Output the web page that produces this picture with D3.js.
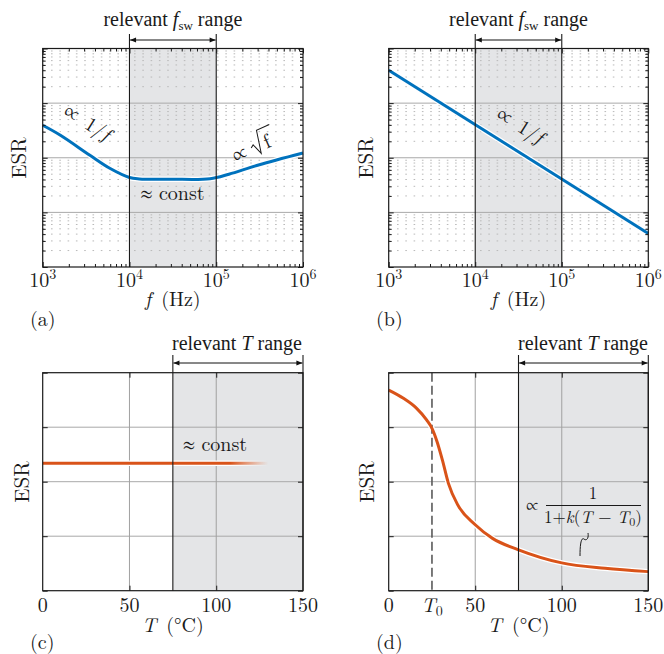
<!DOCTYPE html>
<html><head><meta charset="utf-8">
<script src="https://cdn.jsdelivr.net/npm/d3@7"></script>
<style>
body{margin:0;background:#fff}
svg{display:block}
</style>
</head><body>
<svg id="chart" width="664" height="654"></svg>
<script>
// ---------------- data ----------------
const freqA = [1e3, 1.6e3, 3.5e3, 6e3, 1e4, 1.3e4, 3e4, 8.5e4, 1.4e5, 3e5, 1e6];
const esrA  = [393, 258, 111, 63.5, 43.5, 41, 40.5, 41.3, 50, 73, 122];
const freqB = [1e3, 1e6];
const esrB  = [4000, 4.1];
const tempC = [0, 108, 130];
const esrC  = [2.34, 2.34, 2.34];
const tempD = [0, 8.5, 16, 22, 25, 28, 31, 34.5, 40, 50, 60, 75, 100, 125, 150];
const esrD  = [3.68, 3.53, 3.35, 3.13, 2.98, 2.73, 2.40, 1.97, 1.57, 1.21, 0.96, 0.75, 0.51, 0.41, 0.35];
const freqTicks = [1e3, 1e4, 1e5, 1e6];
const freqTickExp = ["3", "4", "5", "6"];
const tempTicks = [0, 50, 100, 150];
const tempTickLabels = ["0", "50", "100", "150"];
const esrLogMajor = [1, 10, 100, 1000, 10000];
const esrLinMajor = [0, 1, 2, 3, 4];
const fswRange = [1e4, 1e5];
const tRange = [75, 150];
const T0 = 25;
const fadeStartT = 108;

// ---------------- style ----------------
const CM = "'Latin Modern Roman', 'Liberation Serif', serif";
const TIMES = "'Liberation Serif', serif";
const SYM = "'FreeSerif', 'Liberation Serif', serif";
const BLUE = "#0072BD", ORANGE = "#D95319", SHADE = "#e4e5e7", INK = "#1a1a1a";
const svg = d3.select("#chart");
const defs = svg.append("defs");
defs.append("marker").attr("id", "arr").attr("viewBox", "0 0 10 10")
  .attr("refX", 10).attr("refY", 5).attr("markerWidth", 8).attr("markerHeight", 6)
  .attr("markerUnits", "userSpaceOnUse").attr("orient", "auto-start-reverse")
  .append("path").attr("d", "M0,1 L10,5 L0,9 Z").attr("fill", "#111");

function logMinor(lo, hi) {
  const out = [];
  for (let e = lo; e < hi; e++) for (let k = 2; k <= 9; k++) out.push(k * Math.pow(10, e));
  return out;
}
function txt(g, font) {
  return g.append("text").style("font-family", font || CM).attr("fill", INK);
}
function sym(t, s, size) {
  return t.append("tspan").style("font-family", SYM).attr("font-size", size).text(s);
}

function panel(o) {
  const [X0, X1, Y0, Y1] = o.box;
  const x = o.x.copy().range([X0, X1]);
  const y = o.y.copy().range([Y1, Y0]);
  const g = svg.append("g");
  g.append("rect").attr("x", x(o.range[0])).attr("y", Y0)
    .attr("width", x(o.range[1]) - x(o.range[0])).attr("height", Y1 - Y0).attr("fill", SHADE);
  if (o.minorY) {
    g.selectAll(null).data(o.minorY).join("line")
      .attr("x1", X0).attr("x2", X1).attr("y1", d => y(d)).attr("y2", d => y(d))
      .attr("stroke", "#b9b9b9").attr("stroke-width", 1).attr("stroke-dasharray", "1.6,6.7");
  }
  g.selectAll(null).data(o.majorY.slice(1, -1)).join("line")
    .attr("x1", X0).attr("x2", X1).attr("y1", d => y(d)).attr("y2", d => y(d))
    .attr("stroke", "#a9a9a9").attr("stroke-width", 1);
  if (o.gridX) {
    g.selectAll(null).data(o.gridX).join("line")
      .attr("x1", d => x(d)).attr("x2", d => x(d)).attr("y1", Y0).attr("y2", Y1)
      .attr("stroke", "#a0a0a0").attr("stroke-width", 1);
  }
  const line = d3.line().x(d => x(d[0])).y(d => y(d[1])).curve(o.curve || d3.curveMonotoneX);
  const pts = o.xs.map((v, i) => [v, o.ys[i]]);
  const halo = g.append("path").attr("d", line(pts)).attr("fill", "none")
    .attr("stroke", "#fff").attr("stroke-width", 5.5);
  const main = g.append("path").attr("d", line(pts)).attr("fill", "none")
    .attr("stroke", o.color).attr("stroke-width", 3);
  if (o.fade) {
    const id = "fade" + o.name;
    const gr = defs.append("linearGradient").attr("id", id).attr("gradientUnits", "userSpaceOnUse")
      .attr("x1", x(o.fade[0])).attr("x2", x(o.fade[1])).attr("y1", 0).attr("y2", 0);
    gr.append("stop").attr("offset", 0).attr("stop-color", o.color).attr("stop-opacity", 1);
    gr.append("stop").attr("offset", 1).attr("stop-color", o.color).attr("stop-opacity", 0);
    main.attr("stroke", `url(#${id})`);
    const idh = "fadeh" + o.name;
    const gh = defs.append("linearGradient").attr("id", idh).attr("gradientUnits", "userSpaceOnUse")
      .attr("x1", x(o.fade[0])).attr("x2", x(o.fade[1])).attr("y1", 0).attr("y2", 0);
    gh.append("stop").attr("offset", 0).attr("stop-color", "#fff").attr("stop-opacity", 1);
    gh.append("stop").attr("offset", 1).attr("stop-color", "#fff").attr("stop-opacity", 0);
    halo.attr("stroke", `url(#${idh})`);
  }
  if (o.dashX != null) {
    g.append("line").attr("x1", x(o.dashX)).attr("x2", x(o.dashX)).attr("y1", Y0).attr("y2", Y1)
      .attr("stroke", "#5a5a5a").attr("stroke-width", 1.6).attr("stroke-dasharray", "9,4");
    main.raise();
  }
  g.selectAll(null).data(o.range).join("line")
    .attr("x1", d => x(d)).attr("x2", d => x(d)).attr("y1", o.arrowTop).attr("y2", Y1)
    .attr("stroke", INK).attr("stroke-width", 1.1);
  g.append("line").attr("x1", x(o.range[0]) + 0.6).attr("x2", x(o.range[1]) - 0.6)
    .attr("y1", o.arrowY).attr("y2", o.arrowY).attr("stroke", "#111").attr("stroke-width", 1)
    .attr("marker-start", "url(#arr)").attr("marker-end", "url(#arr)");
  g.append("rect").attr("x", X0).attr("y", Y0).attr("width", X1 - X0).attr("height", Y1 - Y0)
    .attr("fill", "none").attr("stroke", INK).attr("stroke-width", 1.2);
  const addAxis = (axis, tx, ty) => {
    const a = g.append("g").attr("transform", `translate(${tx},${ty})`).call(axis);
    a.select(".domain").remove();
    a.selectAll("line").attr("stroke", INK);
  };
  addAxis(d3.axisLeft(y).tickValues(o.majorY).tickSize(-5).tickFormat(""), X0, 0);
  addAxis(d3.axisRight(y).tickValues(o.majorY).tickSize(-5).tickFormat(""), X1, 0);
  if (o.minorY) {
    addAxis(d3.axisLeft(y).tickValues(o.minorY).tickSize(-3).tickFormat(""), X0, 0);
    addAxis(d3.axisRight(y).tickValues(o.minorY).tickSize(-3).tickFormat(""), X1, 0);
  }
  addAxis(d3.axisBottom(x).tickValues(o.ticksX).tickSize(-5).tickFormat(""), 0, Y1);
  addAxis(d3.axisTop(x).tickValues(o.ticksX).tickSize(-5).tickFormat(""), 0, Y0);
  if (o.minorX) {
    addAxis(d3.axisBottom(x).tickValues(o.minorX).tickSize(-3).tickFormat(""), 0, Y1);
    addAxis(d3.axisTop(x).tickValues(o.minorX).tickSize(-3).tickFormat(""), 0, Y0);
  }
  return {g, x, y};
}

function rangeLabel(g, cx, by, symb, sub) {
  const t = txt(g, TIMES).attr("x", cx).attr("y", by).attr("text-anchor", "middle").attr("font-size", 20);
  t.append("tspan").text("relevant ");
  t.append("tspan").attr("font-style", "italic").text(symb);
  if (sub) {
    t.append("tspan").attr("font-size", 13).attr("dy", 4).text(sub);
    t.append("tspan").attr("dy", -4).text(" range");
  } else t.append("tspan").text(" range");
}

function esrLabel(bx, cy) {
  txt(svg).attr("transform", `translate(${bx},${cy}) rotate(-90)`)
    .attr("text-anchor", "middle").attr("font-size", 21).text("ESR");
}

function freqLabels(p, by, ty, tagX, tagY, tag) {
  freqTicks.forEach((v, i) => {
    const t = txt(p.g).attr("x", p.x(v)).attr("y", by).attr("text-anchor", "middle").attr("font-size", 20);
    t.append("tspan").text("10");
    t.append("tspan").attr("font-size", 14).attr("dy", -8).text(freqTickExp[i]);
  });
  const cx = (p.x.range()[0] + p.x.range()[1]) / 2;
  const t = txt(p.g).attr("x", cx).attr("y", ty).attr("text-anchor", "middle").attr("font-size", 20);
  t.append("tspan").attr("font-style", "italic").text("f");
  t.append("tspan").text("\u2002(Hz)");
  txt(p.g).attr("x", tagX).attr("y", tagY).attr("font-size", 20).text(tag);
}

function tempLabels(p, by, ty, tagX, tagY, tag, withT0) {
  tempTicks.forEach((v, i) => {
    txt(p.g).attr("x", p.x(v)).attr("y", by).attr("text-anchor", "middle")
      .attr("font-size", 20).text(tempTickLabels[i]);
  });
  if (withT0) {
    const t = txt(p.g).attr("x", p.x(T0)).attr("y", by).attr("text-anchor", "middle").attr("font-size", 20);
    t.append("tspan").attr("font-style", "italic").text("T");
    t.append("tspan").attr("font-size", 14).attr("dy", 4).text("0");
  }
  const cx = (p.x.range()[0] + p.x.range()[1]) / 2;
  const t = txt(p.g).attr("x", cx).attr("y", ty).attr("text-anchor", "middle").attr("font-size", 20);
  t.append("tspan").attr("font-style", "italic").text("T");
  t.append("tspan").text("\u2002(\u00B0C)");
  txt(p.g).attr("x", tagX).attr("y", tagY).attr("font-size", 20).text(tag);
}

function propOneOverF(g, cx, cy) {
  const t = txt(g).attr("transform", `translate(${cx},${cy}) rotate(32)`)
    .attr("text-anchor", "middle").attr("font-size", 20);
  sym(t, "\u221D", 22);
  t.append("tspan").text("\u2009 1/");
  t.append("tspan").attr("font-style", "italic").text("f");
}

function approxConst(g, cx, by) {
  const t = txt(g).attr("x", cx).attr("y", by).attr("text-anchor", "middle").attr("font-size", 20);
  sym(t, "\u2248", 21);
  t.append("tspan").text(" const");
}

const fx = d3.scaleLog().domain([1e3, 1e6]);
const fyLog = d3.scaleLog().domain([1, 1e4]);
const tx = d3.scaleLinear().domain([0, 150]);
const tyLin = d3.scaleLinear().domain([0, 4]);

// ---- (a)
const pA = panel({name: "A", box: [42.7, 303, 48.5, 267], x: fx, y: fyLog, range: fswRange,
  minorY: logMinor(0, 4), majorY: esrLogMajor, ticksX: freqTicks, minorX: logMinor(3, 6),
  xs: freqA, ys: esrA, color: BLUE, curve: d3.curveCatmullRom.alpha(0.5), arrowTop: 34, arrowY: 40});
rangeLabel(pA.g, (pA.x(fswRange[0]) + pA.x(fswRange[1])) / 2, 26, "f", "sw");
esrLabel(26, 158);
freqLabels(pA, 287, 306, 30, 326, "(a)");
propOneOverF(pA.g, 84, 128);
(function () {
  const s = pA.g.append("g").attr("transform", "translate(258,146) rotate(-24)");
  const t = txt(s).attr("x", -27).attr("y", 6);
  sym(t, "\u221D", 22);
  s.append("path").attr("d", "M-7,-1 L-4,-3 L0,8 L5,-15 L19,-15").attr("fill", "none")
    .attr("stroke", INK).attr("stroke-width", 1);
  txt(s).attr("x", 7).attr("y", 6).attr("font-size", 20).text("f");
  approxConst(pA.g, 172.5, 200);
})();

// ---- (b)
const pB = panel({name: "B", box: [388.7, 648.3, 48.5, 267], x: fx, y: fyLog, range: fswRange,
  minorY: logMinor(0, 4), majorY: esrLogMajor, ticksX: freqTicks, minorX: logMinor(3, 6),
  xs: freqB, ys: esrB, color: BLUE, curve: d3.curveLinear, arrowTop: 34, arrowY: 40});
rangeLabel(pB.g, (pB.x(fswRange[0]) + pB.x(fswRange[1])) / 2, 26, "f", "sw");
esrLabel(373, 158);
freqLabels(pB, 287, 306, 376, 326, "(b)");
propOneOverF(pB.g, 517, 131);

// ---- (c)
const pC = panel({name: "C", box: [42.7, 303, 372.7, 590.7], x: tx, y: tyLin, range: tRange,
  majorY: esrLinMajor, ticksX: [50, 100], gridX: [50, 100],
  xs: tempC, ys: esrC, color: ORANGE, curve: d3.curveLinear, fade: [fadeStartT, tempC[2]],
  arrowTop: 355, arrowY: 363});
rangeLabel(pC.g, 237, 350, "T", null);
esrLabel(29, 482);
tempLabels(pC, 612, 632, 30, 649, "(c)", false);
approxConst(pC.g, 215, 451);

// ---- (d)
const pD = panel({name: "D", box: [388.7, 648.3, 372.7, 590.7], x: tx, y: tyLin, range: tRange,
  majorY: esrLinMajor, ticksX: [50, 100], gridX: [50, 100], dashX: T0,
  xs: tempD, ys: esrD, color: ORANGE, arrowTop: 355, arrowY: 363});
rangeLabel(pD.g, 583, 350, "T", null);
esrLabel(374, 482);
tempLabels(pD, 612, 632, 376, 649, "(d)", true);
(function () {
  const g = pD.g;
  const p = txt(g).attr("x", 526).attr("y", 511);
  sym(p, "\u221D", 19);
  txt(g).attr("x", 593).attr("y", 499).attr("text-anchor", "middle").attr("font-size", 17).text("1");
  g.append("line").attr("x1", 546).attr("x2", 641).attr("y1", 505.5).attr("y2", 505.5)
    .attr("stroke", INK).attr("stroke-width", 1);
  const t = txt(g).attr("x", 593).attr("y", 523).attr("text-anchor", "middle").attr("font-size", 17);
  t.append("tspan").text("1+");
  t.append("tspan").attr("font-style", "italic").text("k");
  t.append("tspan").text("(");
  t.append("tspan").attr("font-style", "italic").text("T");
  t.append("tspan").text(" \u2212 ");
  t.append("tspan").attr("font-style", "italic").text("T");
  t.append("tspan").attr("font-size", 12).attr("dy", 3).text("0");
  t.append("tspan").attr("dy", -3).text(")");
  g.append("path").attr("d", "M588,533 C589,539 586,541 584,539 C581,537 580,545 580,556")
    .attr("fill", "none").attr("stroke", INK).attr("stroke-width", 1);
})();
</script>
</body></html>
